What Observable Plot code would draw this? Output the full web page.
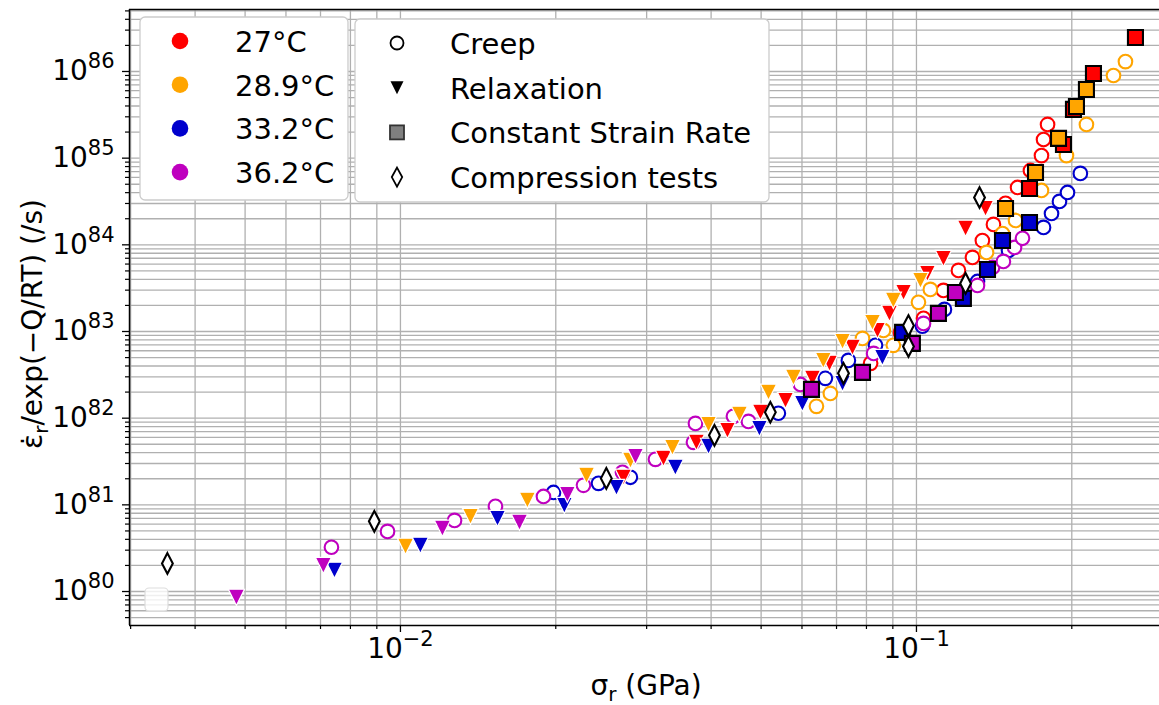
<!DOCTYPE html>
<html><head><meta charset="utf-8">
<script src="https://cdn.jsdelivr.net/npm/d3@7"></script>
<script src="https://cdn.jsdelivr.net/npm/@observablehq/plot@0.6"></script>
<style>
html,body{margin:0;padding:0;background:#fff;}
#chart{width:1159px;height:705px;overflow:hidden;}
</style></head><body><div id="chart"></div>
<script>
// ---------- data (x: σr in GPa, y: ε̇r/exp(−Q/RT) in /s) ----------
const tempLabels = ["27°C", "28.9°C", "33.2°C", "36.2°C"];
const tempColors = ["#ff0000", "#ffa500", "#0000cd", "#bf00bf"];
const testLabels = ["Creep", "Relaxation", "Constant Strain Rate", "Compression tests"];

const creep27 = [[0.0815,4.29e82],[0.0931,9.77e82],[0.1032,1.42e83],[0.1128,2.98e83],[0.1206,5.07e83],[0.1284,7.16e83],[0.1342,1.12e84],[0.1410,1.72e84],[0.1488,3.01e84],[0.1570,4.59e84],[0.1663,7.21e84],[0.1747,1.07e85],[0.1763,1.64e85],[0.1795,2.45e85]];
const creep289 = [[0.0640,1.37e82],[0.0681,1.93e82],[0.0786,8.32e82],[0.0863,1.03e83],[0.0902,6.92e82],[0.1009,2.17e83],[0.1064,3.06e83],[0.1367,8.17e83],[0.1468,1.35e84],[0.1556,1.91e84],[0.1747,4.24e84],[0.1953,1.07e85],[0.2135,2.45e85],[0.2409,8.99e85],[0.2541,1.30e86]];
const creep332 = [[0.0198,1.39e81],[0.0242,1.77e81],[0.0279,2.08e81],[0.0540,1.14e82],[0.0666,2.88e82],[0.0738,4.64e82],[0.0833,6.92e82],[0.1027,1.15e83],[0.1133,1.80e83],[0.1313,3.78e83],[0.1508,8.61e83],[0.1763,1.59e84],[0.1827,2.30e84],[0.1893,3.17e84],[0.1962,4.02e84],[0.2078,6.67e84]];
const creep362 = [[0.00735,3.24e80],[0.00944,4.94e80],[0.01273,6.62e80],[0.01528,9.61e80],[0.01893,1.25e81],[0.02263,1.68e81],[0.02693,2.37e81],[0.03120,3.35e81],[0.03697,5.26e81],[0.03730,8.71e81],[0.04419,1.05e82],[0.04725,9.18e81],[0.0596,2.45e82],[0.0826,5.59e82],[0.1032,1.24e83],[0.1313,3.40e83],[0.1404,5.48e83],[0.1474,6.44e83],[0.1549,9.33e83],[0.1605,1.19e84]];

const relax27 = [[0.02705,2.08e81],[0.03234,3.44e81],[0.03746,5.26e81],[0.04302,7.23e81],[0.04985,1.17e82],[0.05574,1.60e82],[0.06287,2.88e82],[0.06784,4.29e82],[0.07516,6.56e82],[0.08404,1.03e83],[0.08865,1.62e83],[0.0944,2.82e83],[0.1050,4.68e83],[0.1128,6.97e83],[0.1245,1.55e84],[0.1361,2.63e84]];
const relax289 = [[0.01023,3.32e80],[0.01367,7.36e80],[0.01762,1.13e81],[0.02294,2.19e81],[0.02791,3.26e81],[0.03366,4.60e81],[0.03954,8.48e81],[0.04539,1.11e82],[0.05167,1.99e82],[0.05776,2.96e82],[0.0660,4.64e82],[0.0719,7.69e82],[0.08218,1.27e83],[0.0902,2.29e83],[0.1018,3.88e83]];
const relax332 = [[0.00745,1.76e80],[0.01093,3.41e80],[0.01542,6.98e80],[0.02078,9.86e80],[0.02622,1.59e81],[0.0341,2.71e81],[0.03954,4.73e81],[0.04962,7.62e81],[0.0601,1.48e82],[0.0719,2.52e82],[0.0859,5.02e82]];
const relax362 = [[0.00481,8.57e79],[0.00709,2.00e80],[0.01206,5.36e80],[0.01701,6.28e80],[0.02106,1.32e81],[0.02854,3.62e81]];

const csr27 = [[0.1656,4.47e84],[0.1927,1.44e85],[0.2015,3.65e85],[0.2203,9.48e85],[0.2657,2.47e86]];
const csr289 = [[0.1488,2.63e84],[0.1701,6.84e84],[0.1885,1.69e85],[0.2042,3.95e85],[0.2135,6.20e85]];
const csr332 = [[0.0940,9.77e82],[0.1233,2.41e83],[0.1373,5.20e83],[0.1468,1.12e84],[0.1656,1.81e84]];
const csr362 = [[0.0626,2.15e82],[0.0786,3.38e82],[0.0982,7.29e82],[0.1103,1.62e83],[0.1190,2.82e83]];

const compression = [[0.003535,2.11e80],[0.00890,6.45e80],[0.02506,2.02e81],[0.0406,6.34e81],[0.0521,1.17e82],[0.0722,3.29e82],[0.0965,6.73e82],[0.0965,1.17e83],[0.1245,3.59e83],[0.1325,3.52e84]];

const xMajorTicks = [0.01, 0.1];
const yMajorExponents = [80, 81, 82, 83, 84, 85, 86];
const xDomain = [0.002985, 0.2958];
const yDomain = [4.055e79, 5.19e86];

// ---------- table ----------
const seriesList = [
  [creep27, 0, 0], [creep289, 1, 0], [creep332, 2, 0], [creep362, 3, 0],
  [relax27, 0, 1], [relax289, 1, 1], [relax332, 2, 1], [relax362, 3, 1],
  [csr27, 0, 2], [csr289, 1, 2], [csr332, 2, 2], [csr362, 3, 2],
  [compression, null, 3]
];
const rows = seriesList.flatMap(([pts, t, k]) => pts.map(([x, y]) => ({
  x, y, temp: t === null ? "none" : tempLabels[t], test: testLabels[k]
})));
const byTest = k => rows.filter(d => d.test === testLabels[k]);

// ---------- ticks for log grid ----------
const yMajorTicks = yMajorExponents.map(e => Number("1e" + e));
const yMinorTicks = [];
for (let e = 79; e <= 86; e++) for (let k = 2; k <= 9; k++) {
  const v = Number(k + "e" + e);
  if (v > yDomain[0] && v < yDomain[1]) yMinorTicks.push(v);
}
const xMinorTicks = [];
for (let e = -3; e <= -1; e++) for (let k = 2; k <= 9; k++) {
  const v = Number(k + "e" + e);
  if (v >= xDomain[0] * 0.999 && v < xDomain[1]) xMinorTicks.push(v);
}

// ---------- custom matplotlib-like symbols with fixed pixel sizes ----------
const triDown = h => ({draw(c) { c.moveTo(-h, -h); c.lineTo(h, -h); c.lineTo(0, h); c.closePath(); }});
const squareSym = h => ({draw(c) { c.moveTo(-h, -h); c.lineTo(h, -h); c.lineTo(h, h); c.lineTo(-h, h); c.closePath(); }});
const thinDiamond = (h, w) => ({draw(c) { c.moveTo(0, -h); c.lineTo(w, 0); c.lineTo(0, h); c.lineTo(-w, 0); c.closePath(); }});

const expFmt = d => { const e = Math.round(Math.log10(d)); return "10^" + (e < 0 ? "\u2212" + (-e) : e); };
const gridStyle = {stroke: "#b0b0b0", strokeOpacity: 1, strokeWidth: 1.3};

const svg = Plot.plot({
  width: 1159, height: 705,
  marginLeft: 129, marginRight: 0, marginTop: 9, marginBottom: 80,
  style: {fontFamily: "DejaVu Sans", fontSize: "28px", background: "white", color: "black"},
  x: {type: "log", domain: xDomain, label: null},
  y: {type: "log", domain: yDomain, label: null},
  color: {domain: [...tempLabels, "none"], range: [...tempColors, "white"]},
  marks: [
    Plot.gridX(xMinorTicks, gridStyle),
    Plot.gridX(xMajorTicks, gridStyle),
    Plot.gridY(yMinorTicks, gridStyle),
    Plot.gridY(yMajorTicks, gridStyle),
    Plot.axisX(xMinorTicks, {anchor: "bottom", tickSize: 4, text: null, strokeWidth: 1.2, label: null}),
    Plot.axisX(xMajorTicks, {anchor: "bottom", tickSize: 7, tickPadding: 6, tickFormat: expFmt, strokeWidth: 1.3, label: null}),
    Plot.axisY(yMinorTicks, {anchor: "left", tickSize: 4, text: null, strokeWidth: 1.2, label: null}),
    Plot.axisY(yMajorTicks, {anchor: "left", tickSize: 7, tickPadding: 8, tickFormat: expFmt, strokeWidth: 1.3, label: null}),
    Plot.dot(byTest(0), {x: "x", y: "y", symbol: "circle", r: 6.8, stroke: "temp", fill: "white", strokeWidth: 2.1}),
    Plot.dot(byTest(1), {x: "x", y: "y", symbol: triDown(8.1), fill: "temp", stroke: "white", strokeWidth: 1.2}),
    Plot.dot(byTest(2), {x: "x", y: "y", symbol: squareSym(7.5), fill: "temp", stroke: "black", strokeWidth: 2.1}),
    Plot.dot(byTest(3), {x: "x", y: "y", symbol: thinDiamond(10.3, 5.4), fill: "white", stroke: "black", strokeWidth: 2.1}),
    Plot.ruleX([xDomain[0]], {stroke: "black", strokeWidth: 1.5}),
    Plot.ruleY([yDomain[0], yDomain[1]], {stroke: "black", strokeWidth: 1.5})
  ]
});

const root = d3.select(svg);
// superscript exponents on tick labels
root.selectAll('g[aria-label="x-axis tick label"] text, g[aria-label="y-axis tick label"] text').each(function() {
  const t = d3.select(this); const m = t.text().match(/^10\^(.+)$/); if (!m) return;
  t.text("10"); t.append("tspan").attr("dy", -12).attr("font-size", 21).text(m[1]);
});

// axis labels
const xl = root.append("text").attr("x", 646).attr("y", 695).attr("text-anchor", "middle").attr("font-size", 28);
xl.append("tspan").text("\u03C3");
xl.append("tspan").attr("font-size", 20).attr("dy", 6).text("r");
xl.append("tspan").attr("dy", -6).text(" (GPa)");
const yl = root.append("text").attr("transform", "translate(42,324) rotate(-90)").attr("text-anchor", "middle").attr("font-size", 28);
yl.append("tspan").text("\u03B5\u0307");
yl.append("tspan").attr("font-size", 20).attr("dy", 6).text("r");
yl.append("tspan").attr("dy", -6).text("/exp(\u2212Q/RT) (/s)");

// legends
const lg = root.append("g").attr("font-size", 29).attr("text-anchor", "start");
lg.append("rect").attr("x", 140).attr("y", 17).attr("width", 208).attr("height", 183).attr("rx", 5)
  .attr("fill", "white").attr("stroke", "#cccccc").attr("stroke-width", 1.3);
tempLabels.forEach((lab, i) => {
  const cy = 41 + i * 43.7;
  lg.append("circle").attr("cx", 180).attr("cy", cy).attr("r", 8.3).attr("fill", tempColors[i]);
  lg.append("text").attr("x", 235).attr("y", cy + 11).attr("text-anchor", "start").text(lab);
});
lg.append("rect").attr("x", 355).attr("y", 19).attr("width", 414).attr("height", 183).attr("rx", 5)
  .attr("fill", "white").attr("stroke", "#cccccc").attr("stroke-width", 1.3);
testLabels.forEach((lab, i) => {
  const cy = 43 + i * 44.7, cx = 397;
  const g = lg.append("g").attr("transform", `translate(${cx},${cy})`);
  if (i === 0) g.append("circle").attr("r", 6.5).attr("fill", "white").attr("stroke", "black").attr("stroke-width", 1.8);
  if (i === 1) g.append("path").attr("d", "M-6.5,-6.5L6.5,-6.5L0,6.5Z").attr("fill", "black");
  if (i === 2) g.append("rect").attr("x", -7).attr("y", -7).attr("width", 14).attr("height", 14).attr("fill", "#808080").attr("stroke", "#333").attr("stroke-width", 1.8);
  if (i === 3) g.append("path").attr("d", "M0,-9.5L5.2,0L0,9.5L-5.2,0Z").attr("fill", "white").attr("stroke", "black").attr("stroke-width", 1.8);
  lg.append("text").attr("x", 450).attr("y", cy + 11).attr("text-anchor", "start").text(lab);
});
// empty legend frame in lower left corner
root.append("rect").attr("x", 145).attr("y", 588).attr("width", 23).attr("height", 23).attr("rx", 4)
  .attr("fill", "white").attr("fill-opacity", 0.8).attr("stroke", "#dddddd").attr("stroke-width", 1.2);

document.getElementById("chart").append(svg);
</script></body></html>
